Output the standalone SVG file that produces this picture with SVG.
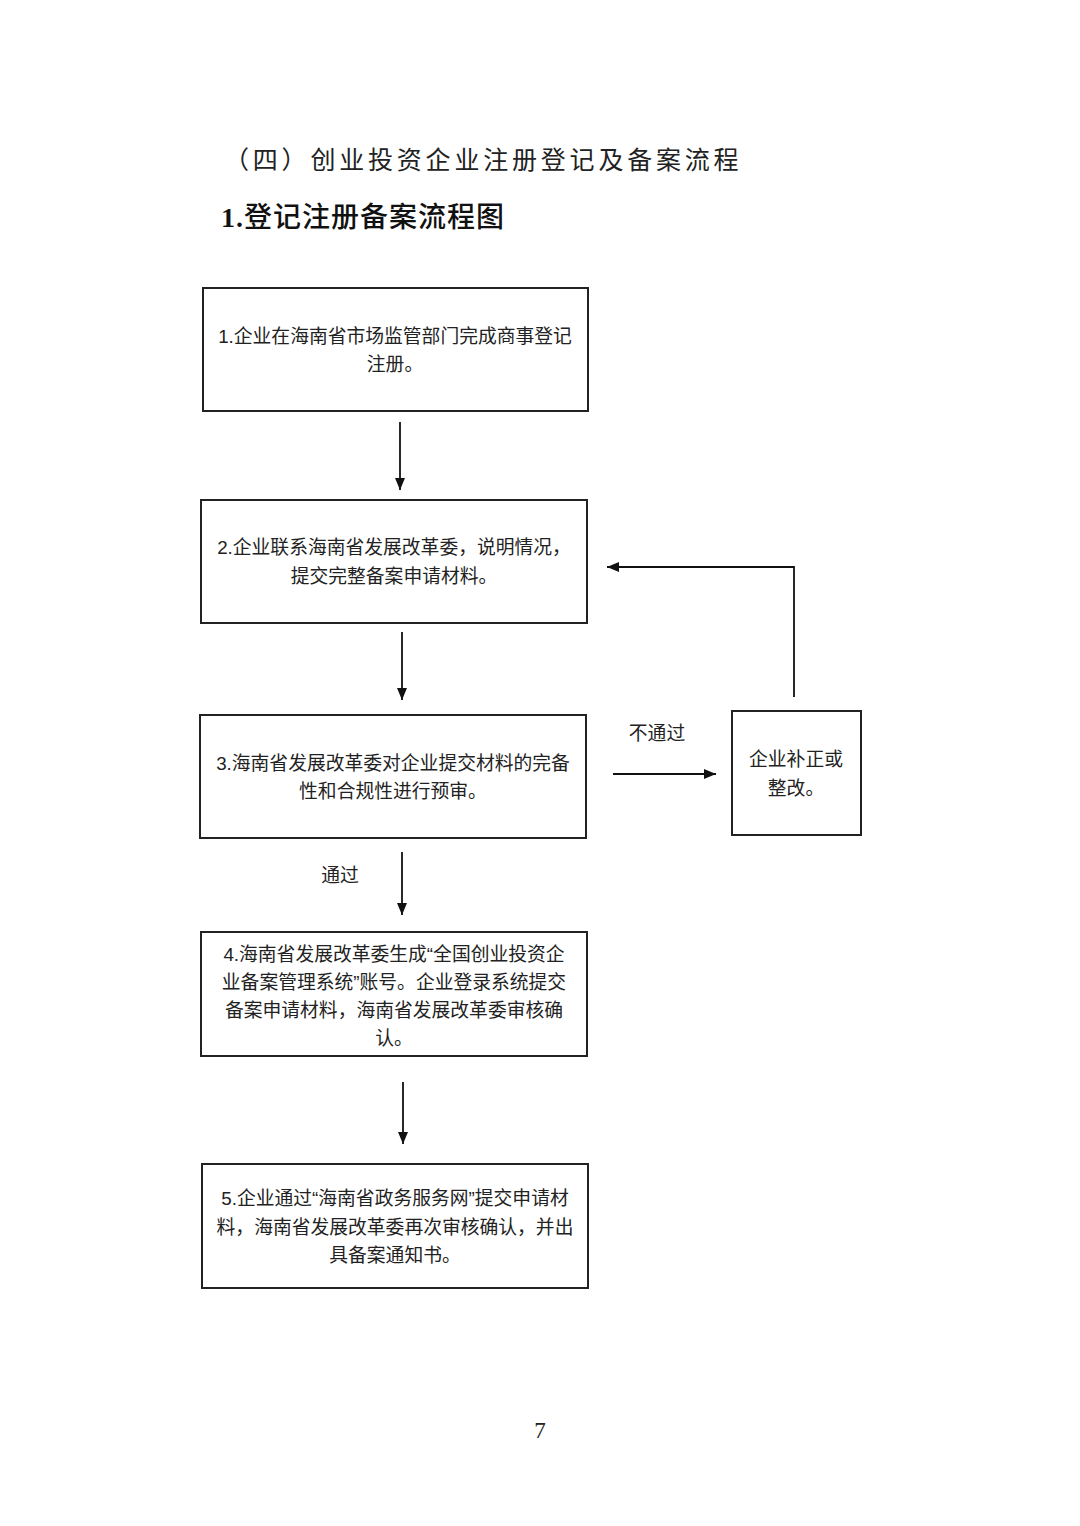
<svg xmlns="http://www.w3.org/2000/svg" width="1080" height="1526" viewBox="0 0 1080 1526">
<style>
.box{fill:#fff;stroke:#222;stroke-width:2}
.t{font-family:"Liberation Sans","Noto Sans CJK SC",sans-serif;font-size:18.8px;fill:#222;text-anchor:middle}
.ln{stroke:#111;stroke-width:1.8;fill:none}
.h1{font-family:"Liberation Serif","Noto Sans CJK SC",serif;font-size:25px;fill:#222;letter-spacing:3.8px}
.h2{font-family:"Liberation Serif","Noto Sans CJK SC",serif;font-size:28px;fill:#111;letter-spacing:1px}
</style>
<defs>
<marker id="ah" viewBox="0 0 12 10" refX="12" refY="5" markerWidth="12" markerHeight="10" markerUnits="userSpaceOnUse" orient="auto">
<path d="M0,0 L12,5 L0,10 Z" fill="#111"/>
</marker>
</defs>
<rect width="1080" height="1526" fill="#fff"/>
<text class="h1" x="224" y="169">（四）创业投资企业注册登记及备案流程</text>
<text class="h2" x="221" y="227"><tspan font-weight="bold">1.</tspan><tspan font-weight="500">登记注册备案流程图</tspan></text>

<g id="n1">
<rect class="box" x="203" y="288" width="385" height="123"/>
<text class="t" x="395" y="343">1.企业在海南省市场监管部门完成商事登记</text>
<text class="t" x="395" y="371">注册。</text>
</g>
<g id="n2">
<rect class="box" x="201" y="500" width="386" height="123"/>
<text class="t" x="394" y="554">2.企业联系海南省发展改革委，说明情况，</text>
<text class="t" x="394" y="583">提交完整备案申请材料。</text>
</g>
<g id="n3">
<rect class="box" x="200" y="715" width="386" height="123"/>
<text class="t" x="393" y="770">3.海南省发展改革委对企业提交材料的完备</text>
<text class="t" x="393" y="798">性和合规性进行预审。</text>
</g>
<g id="n4">
<rect class="box" x="201" y="932" width="386" height="124"/>
<text class="t" x="394" y="961">4.海南省发展改革委生成“全国创业投资企</text>
<text class="t" x="394" y="989">业备案管理系统”账号。企业登录系统提交</text>
<text class="t" x="394" y="1017">备案申请材料，海南省发展改革委审核确</text>
<text class="t" x="394" y="1045">认。</text>
</g>
<g id="n5">
<rect class="box" x="202" y="1164" width="386" height="124"/>
<text class="t" x="395" y="1205">5.企业通过“海南省政务服务网”提交申请材</text>
<text class="t" x="395" y="1234">料，海南省发展改革委再次审核确认，并出</text>
<text class="t" x="395" y="1262">具备案通知书。</text>
</g>
<g id="n6">
<rect class="box" x="732" y="711" width="129" height="124"/>
<text class="t" x="796" y="766">企业补正或</text>
<text class="t" x="796" y="795">整改。</text>
</g>

<g id="connectors">
<line class="ln" x1="400" y1="422" x2="400" y2="490" marker-end="url(#ah)"/>
<line class="ln" x1="402" y1="632" x2="402" y2="700" marker-end="url(#ah)"/>
<line class="ln" x1="402" y1="852" x2="402" y2="915" marker-end="url(#ah)"/>
<line class="ln" x1="403" y1="1082" x2="403" y2="1144" marker-end="url(#ah)"/>
<line class="ln" x1="613" y1="774" x2="716" y2="774" marker-end="url(#ah)"/>
<polyline class="ln" points="794,697 794,567 607,567" marker-end="url(#ah)"/>
<text class="t" x="657" y="740">不通过</text>
<text class="t" x="340" y="882">通过</text>
</g>

<text x="540" y="1438" style="font-family:'Liberation Serif',serif;font-size:23px;fill:#222;text-anchor:middle">7</text>
</svg>
